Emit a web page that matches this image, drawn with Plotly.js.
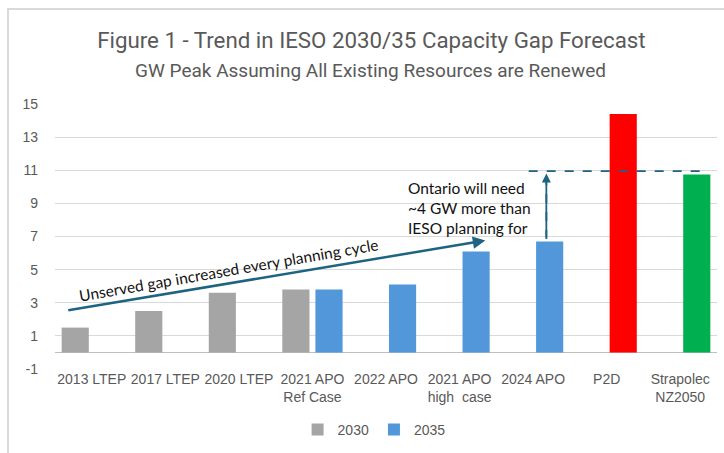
<!DOCTYPE html>
<html>
<head>
<meta charset="utf-8">
<script src="https://cdn.plot.ly/plotly-3.0.1.min.js"></script>
<style>
html,body{margin:0;padding:0;background:#fff;}
#wrap{position:relative;width:724px;height:453px;overflow:hidden;}
#chart{position:absolute;left:0;top:0;width:724px;height:453px;}
#frame{position:absolute;left:7px;top:8px;width:730px;height:460px;border-left:2px solid #d9d9d9;border-top:2px solid #d9d9d9;pointer-events:none;}
</style>
</head>
<body>
<div id="wrap"><div id="chart"></div><div id="frame"></div></div>
<script>
const categories = ["2013 LTEP", "2017 LTEP", "2020 LTEP", "2021 APO<br>Ref Case", "2022 APO", "2021 APO<br>high  case", "2024 APO", "P2D", "Strapolec<br>NZ2050"];
const values2030 = [1.5, 2.5, 3.6, 3.8, null, null, null, null, null];
const values2035 = [null, null, null, 3.8, 4.1, 6.1, 6.7, 14.4, 10.75];
const colors2035 = ["#5197d9", "#5197d9", "#5197d9", "#5197d9", "#5197d9", "#5197d9", "#5197d9", "#ff0000", "#00b050"];
const yTicks = [-1, 1, 3, 5, 7, 9, 11, 13, 15];
const yTickLabels = ["-1", "1", "3", "5", "7", "9", "11", "13", "15"];

const xIdx = categories.map((c, i) => i);
const grey = "#595959";
const teal = "#1f6382";

const traces = [
  {type: "bar", name: "2030", x: xIdx, y: values2030, marker: {color: "#a5a5a5"}},
  {type: "bar", name: "2035", x: xIdx, y: values2035, marker: {color: colors2035}}
];

const layout = {
  width: 724, height: 453,
  margin: {l: 55, r: 7, t: 104, b: 81},
  paper_bgcolor: "#ffffff", plot_bgcolor: "#ffffff",
  barmode: "group", bargap: 0.10, bargroupgap: 0.18,
  font: {family: "Liberation Sans, Arial, sans-serif", color: grey, size: 14},
  title: {
    text: "Figure 1 - Trend in IESO 2030/35 Capacity Gap Forecast",
    font: {family: "Roboto, sans-serif", size: 22.3, color: grey},
    x: 0.513, xanchor: "center", xref: "container",
    y: 1 - 40 / 453, yanchor: "middle", yref: "container"
  },
  xaxis: {
    type: "linear", range: [-0.5, 8.5],
    tickmode: "array", tickvals: xIdx, ticktext: categories,
    showgrid: false, zeroline: false, showline: false, ticks: "",
    tickfont: {size: 14, color: grey}, fixedrange: true
  },
  yaxis: {
    range: [-1, 15], tickmode: "array", tickvals: yTicks, ticktext: yTickLabels,
    showgrid: true, gridcolor: "#d9d9d9", gridwidth: 1,
    zeroline: true, zerolinecolor: "#bfbfbf", zerolinewidth: 1.5,
    showline: false, ticks: "", ticklabelstandoff: 16,
    tickfont: {size: 14, color: grey}, fixedrange: true
  },
  showlegend: true,
  legend: {
    orientation: "h", x: 0.482, xanchor: "center", y: -0.23, yanchor: "middle",
    font: {size: 14, color: grey}, itemwidth: 30, traceorder: "normal"
  },
  annotations: [
    {text: "GW Peak Assuming All Existing Resources are Renewed", xref: "paper", yref: "paper",
     x: 0.476, y: (372 - 70) / 268, xanchor: "center", yanchor: "middle", showarrow: false,
     font: {family: "Roboto, sans-serif", size: 19, color: grey}},
    {text: "", xref: "x", yref: "y", axref: "x", ayref: "y",
     x: 5.35, y: 6.76, ax: -0.34, ay: 2.53, showarrow: true,
     arrowhead: 2, arrowsize: 1, arrowwidth: 2.5, arrowcolor: teal, standoff: 0},
    {text: "Unserved gap increased every planning cycle", xref: "x", yref: "y",
     x: 1.86, y: 5.0, xanchor: "center", yanchor: "middle", showarrow: false, textangle: -9.8,
     font: {family: "Lato, sans-serif", size: 15.5, color: "#111111"}},
    {text: "Ontario will need<br>~4 GW more than<br>IESO planning for", xref: "x", yref: "y",
     x: 4.27, y: 8.7, xanchor: "left", yanchor: "middle", align: "left", showarrow: false,
     font: {family: "Lato, sans-serif", size: 15.5, color: "#111111"}},
    {text: "", xref: "x", yref: "y", axref: "x", ayref: "y",
     x: 6.18, y: 10.8, ax: 6.18, ay: 6.85, showarrow: true,
     arrowhead: 2, arrowsize: 1, arrowwidth: 1.8, arrowcolor: teal, standoff: 0}
  ],
  shapes: [
    {type: "line", xref: "x", yref: "y", x0: 6.18, x1: 6.18, y0: 6.85, y1: 10.6,
     line: {color: teal, width: 1.8, dash: "dash"}},
    {type: "line", xref: "x", yref: "y", x0: 5.94, x1: 8.28, y0: 10.95, y1: 10.95,
     line: {color: teal, width: 1.8, dash: "dash"}}
  ]
};

Plotly.newPlot("chart", traces, layout, {displayModeBar: false, staticPlot: true});
</script>
</body>
</html>
